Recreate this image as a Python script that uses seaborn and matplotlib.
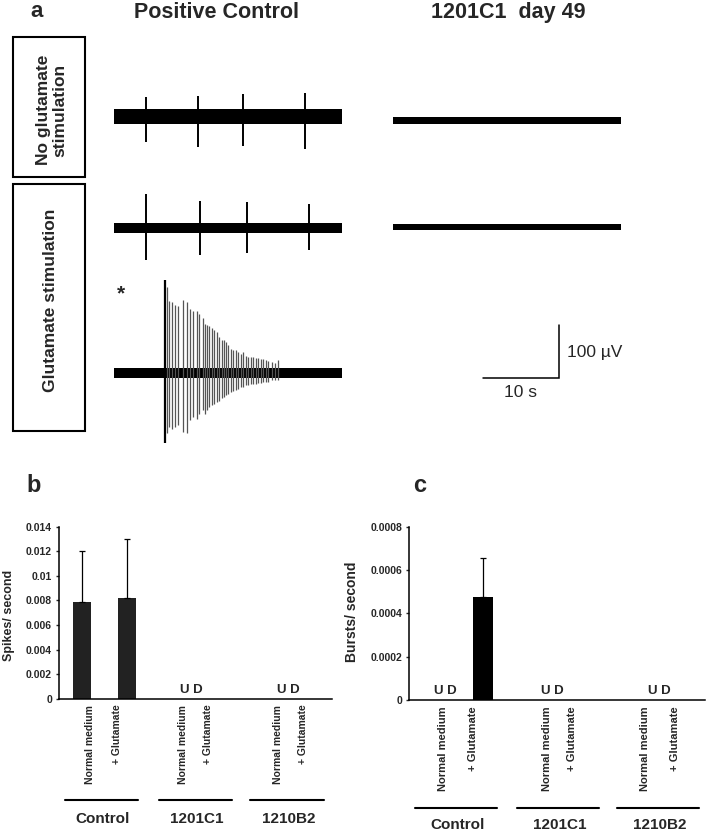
import matplotlib
matplotlib.use("Agg")
import matplotlib.pyplot as plt
import matplotlib.transforms as mtransforms
from matplotlib.patches import Rectangle
import numpy as np
import pandas as pd
import seaborn as sns

# ---------------- data ----------------
TRACE_DURATION_S = 30
SCALE_T_S = 10
SCALE_V_UV = 100

# Positive control, no glutamate (µV, s)
ctrl_noglut_noise = 14
ctrl_noglut_spike_t = [4.2, 11.05, 17.0, 25.1]
ctrl_noglut_spike_up = [37, 39, 42, 44]
ctrl_noglut_spike_down = [48, 58, 56, 61]

# Positive control, glutamate
ctrl_glut_noise = 9
ctrl_glut_spike_t = [4.2, 11.3, 17.5, 25.7]
ctrl_glut_spike_up = [64, 51, 49, 45]
ctrl_glut_spike_down = [60, 51, 47, 42]

# Positive control, glutamate burst (*)
burst_noise = 10
burst_t = [6.71, 6.93, 7.28, 7.59, 8.03, 8.46, 9.04, 9.56, 10.0, 10.44, 10.88,
           11.23, 11.67, 11.97, 12.19, 12.54, 12.85, 13.16, 13.51, 13.86, 14.17,
           14.47, 14.74, 15.04, 15.35, 15.70, 16.01, 16.36, 16.67, 17.02, 17.37,
           17.68, 17.98, 18.33, 18.68, 18.99, 19.30, 19.65, 20.0, 20.31, 20.75,
           21.18, 21.62]
burst_up = [175, 162, 136, 134, 128, 126, 137, 134, 120, 117, 117, 111, 103, 93,
            90, 88, 84, 81, 77, 68, 62, 62, 58, 52, 46, 43, 43, 40, 36, 40, 33,
            31, 31, 30, 29, 29, 27, 27, 24, 23, 21, 19, 25]
burst_down = [133, 114, 102, 105, 102, 99, 111, 114, 89, 83, 86, 77, 70, 77, 70,
              64, 61, 58, 55, 52, 48, 45, 42, 39, 36, 34, 33, 30, 26, 26, 23, 23,
              21, 20, 20, 19, 19, 17, 17, 17, 14, 14, 13]

# 1201C1 day 49
c1201_noglut_noise = 6.6
c1201_glut_noise = 6.6

groups = ["Control", "1201C1", "1210B2"]
conditions = ["Normal medium", "+ Glutamate"]
spikes_mean = [0.0079, 0.0082, 0, 0, 0, 0]
spikes_err = [0.0041, 0.0048, 0, 0, 0, 0]
bursts_mean = [0, 0.000477, 0, 0, 0, 0]
bursts_err = [0, 0.000177, 0, 0, 0, 0]
spikes_yticks = [0, 0.002, 0.004, 0.006, 0.008, 0.01, 0.012, 0.014]
spikes_ytick_labels = ["0", "0.002", "0.004", "0.006", "0.008", "0.01", "0.012", "0.014"]
bursts_yticks = [0, 0.0002, 0.0004, 0.0006, 0.0008]
bursts_ytick_labels = ["0", "0.0002", "0.0004", "0.0006", "0.0008"]
ud_label = "U D"

# ---------------- style ----------------
sns.set_style("white")
plt.rcParams["font.family"] = ["Liberation Sans", "DejaVu Sans"]

W, H = 708, 833
fig = plt.figure(figsize=(W / 100, H / 100), dpi=100)

PX_PER_S = 7.6
PX_PER_UV = 0.53


def fx(x):
    return x / W


def fy(y):
    return 1 - y / H


def trace_axes(x0, cy, h):
    wpx = TRACE_DURATION_S * PX_PER_S
    ax = fig.add_axes([fx(x0), fy(cy + h / 2), wpx / W, h / H])
    ax.set_xlim(0, TRACE_DURATION_S)
    half = h / 2 / PX_PER_UV
    ax.set_ylim(-half, half)
    ax.axis("off")
    return ax


def draw_trace(ax, noise, t=None, up=None, down=None, color="black", lw=1.4):
    ax.fill_between([0, TRACE_DURATION_S], [-noise, -noise], [noise, noise],
                    color="black", lw=0)
    if t is not None:
        ax.vlines(t, [-d for d in down], up, color=color, lw=lw)


# traces
a1 = trace_axes(114, 116.5, 130)
draw_trace(a1, ctrl_noglut_noise, ctrl_noglut_spike_t, ctrl_noglut_spike_up, ctrl_noglut_spike_down)
a2 = trace_axes(114, 228, 130)
draw_trace(a2, ctrl_glut_noise, ctrl_glut_spike_t, ctrl_glut_spike_up, ctrl_glut_spike_down)
a3 = trace_axes(114, 373, 200)
a3.vlines(burst_t[1:], [-d for d in burst_down[1:]], burst_up[1:], color="#555555", lw=0.9)
a3.vlines(burst_t[:1], [-d for d in burst_down[:1]], burst_up[:1], color="black", lw=1.6)
draw_trace(a3, burst_noise)
a4 = trace_axes(393, 120.5, 60)
draw_trace(a4, c1201_noglut_noise)
a5 = trace_axes(393, 227, 60)
draw_trace(a5, c1201_glut_noise)

# scale bar
asb = trace_axes(393, 378, 200)
t_end = (559 - 393) / PX_PER_S
asb.plot([t_end - SCALE_T_S, t_end, t_end], [0, 0, SCALE_V_UV], color="black",
         lw=1.1, solid_joinstyle="miter")
asb.text(t_end + 1.0, SCALE_V_UV * 0.49, f"{SCALE_V_UV} µV", ha="left", va="center",
         fontsize=12.5)
asb.text(t_end - SCALE_T_S / 2, -27, f"{SCALE_T_S} s", ha="center", va="center",
         fontsize=12.5)

# titles / labels of panel a
fig.text(fx(37), fy(17), "a", fontsize=16, fontweight="bold", ha="center", va="baseline")
fig.text(fx(216), fy(18), "Positive Control", fontsize=15.5, fontweight="bold",
         ha="center", va="baseline")
fig.text(fx(508), fy(18), "1201C1  day 49", fontsize=15.5, fontweight="bold",
         ha="center", va="baseline")
fig.text(fx(121), fy(299), "*", fontsize=15, fontweight="bold", ha="center", va="baseline")

for (y0, y1) in [(37, 177), (184, 431)]:
    fig.add_artist(Rectangle((fx(13), fy(y1)), 72 / W, (y1 - y0) / H,
                             transform=fig.transFigure, fill=False,
                             edgecolor="black", lw=1.5))
fig.text(fx(52), fy(110), "No glutamate\nstimulation", rotation=90, fontsize=12.5,
         fontweight="bold", ha="center", va="center", linespacing=1.1)
fig.text(fx(51), fy(300), "Glutamate stimulation", rotation=90, fontsize=12.5,
         fontweight="bold", ha="center", va="center")

# ---------------- bar panels ----------------
cond_ids = [f"{g}|{c}" for g in groups for c in conditions]


def bar_panel(rect, means, errs, color, yticks, ylabels, ylim, ylabel, ylabel_fs,
              ylabel_xy, tick_x, ud_x, line_spans, line_y, group_y, label_fs):
    ax = fig.add_axes(rect)
    df = pd.DataFrame({"cond": cond_ids, "value": means})
    sns.barplot(data=df, x="cond", y="value", order=cond_ids, color=color,
                saturation=1, width=0.39, errorbar=None, linewidth=0, ax=ax)
    pos = np.arange(len(cond_ids))
    for p, m, e in zip(pos, means, errs):
        if e > 0:
            ax.errorbar([p], [m], yerr=[[0], [e]], fmt="none", ecolor="black",
                        elinewidth=0.9, capsize=2.5, capthick=0.9)
    ax.set_xlim(-0.5, len(cond_ids) - 0.5)
    ax.set_ylim(*ylim)
    ax.set_yticks(yticks)
    ax.set_yticklabels(ylabels, fontsize=7.5, fontweight="bold")
    ax.tick_params(axis="y", length=2.5, width=1, pad=2.5, left=True)
    ax.set_xticks(tick_x)
    ax.set_xticklabels([c for g in groups for c in conditions], rotation=90,
                       fontsize=label_fs, fontweight="bold")
    ax.tick_params(axis="x", length=0, pad=4.3)
    ax.set_xlabel("")
    ax.set_ylabel(ylabel, fontsize=ylabel_fs, fontweight="bold")
    ax.yaxis.set_label_coords(*ylabel_xy)
    for s in ["top", "right"]:
        ax.spines[s].set_visible(False)
    for s in ["left", "bottom"]:
        ax.spines[s].set_color("black")
        ax.spines[s].set_linewidth(1.1)
    for x in ud_x:
        ax.annotate(ud_label, (x, 0), xytext=(0, 4), textcoords="offset points",
                    ha="center", va="baseline", fontsize=9.5, fontweight="bold")
    tr = mtransforms.blended_transform_factory(ax.transData, ax.transAxes)
    for (x0, x1), g in zip(line_spans, groups):
        ax.plot([x0, x1], [line_y, line_y], color="black", lw=1.5, transform=tr,
                clip_on=False)
        ax.text((x0 + x1) / 2 + 0.03, group_y, g, transform=tr, ha="center",
                va="baseline", fontsize=11, fontweight="bold")
    return ax


bar_panel([fx(59), fy(698.7), 273 / W, 172 / H], spikes_mean, spikes_err, "#222222",
          spikes_yticks, spikes_ytick_labels, (0, 0.014), "Spikes/ second", 9,
          (-0.163, 0.485), [0.18, 0.77, 2.23, 2.77, 4.31, 4.86], [2.4, 4.55],
          [(-0.37, 1.24), (1.70, 3.30), (3.70, 5.32)], -0.587, -0.72, 7.5)

bar_panel([fx(409), fy(700), 296 / W, 173.3 / H], bursts_mean, bursts_err, "black",
          bursts_yticks, bursts_ytick_labels, (0, 0.0008), "Bursts/ second", 10,
          (-0.17, 0.51), [0.19, 0.8, 2.3, 2.8, 4.29, 4.9], [0.23, 2.41, 4.57],
          [(-0.38, 1.28), (1.69, 3.35), (3.72, 5.38)], -0.625, -0.745, 8)

fig.text(fx(34), fy(492), "b", fontsize=17, fontweight="bold", ha="center", va="baseline")
fig.text(fx(420), fy(492), "c", fontsize=17, fontweight="bold", ha="center", va="baseline")

fig.savefig("out.png", dpi=100)
